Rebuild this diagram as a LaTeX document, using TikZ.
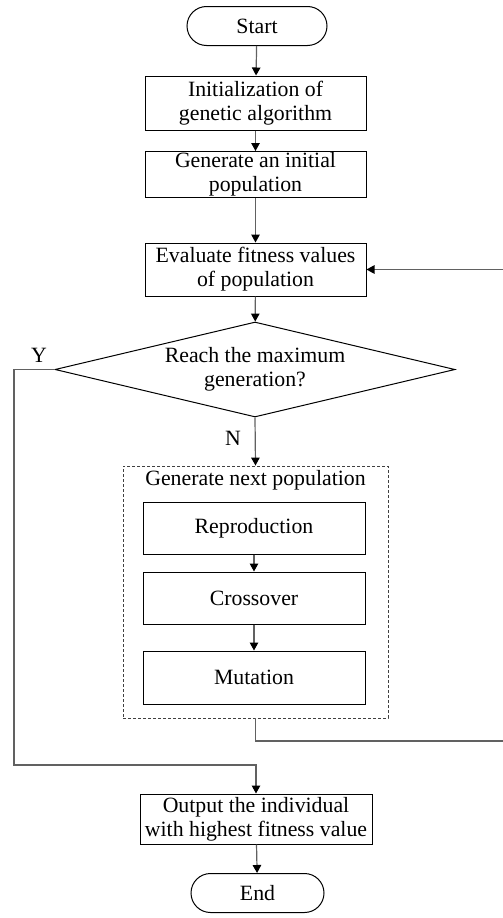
\documentclass[tikz,border=0pt]{standalone}
\usepackage{fontspec}
\setmainfont{Liberation Serif}
\usetikzlibrary{arrows.meta,shapes.geometric,shapes.misc}
\begin{document}
\begin{tikzpicture}[x=1pt,y=-1pt,
  every node/.style={font=\fontsize{21.8}{24}\selectfont},
  proc/.style={draw=black,line width=1pt,rectangle,minimum width=221pt,inner sep=0pt,align=center},
  term/.style={draw=black,line width=1pt,rounded rectangle,minimum height=39pt,inner sep=0pt},
  dec/.style={draw=black,line width=1pt,diamond,aspect=4.21,minimum width=400pt,minimum height=95pt,inner sep=0pt,align=center},
  grp/.style={draw=black!75,line width=0.9pt,dash pattern=on 3pt off 2pt,rectangle,inner sep=0pt},
  conn/.style={draw=black!62,line width=1.2pt},
  arr/.style={conn,-{Triangle[length=8pt,width=8.5pt,color=black]}},
  lbl/.style={inner sep=0pt}
]
\useasboundingbox (0,0) rectangle (503,918);
\fill[white] (0,0) rectangle (503,918);

\node[term,minimum width=140pt] (start) at (257,26) {Start};
\node[proc,minimum height=54pt] (init) at (255.5,103) {Initialization of\\genetic algorithm};
\node[proc,minimum height=46pt] (geninit) at (255.5,174.5) {Generate an initial\\population};
\node[proc,minimum height=53pt] (eval) at (255.5,269.5) {Evaluate fitness values\\of population};
\node[dec] (dec) at (255,369.5) {Reach the maximum\\generation?};
\node[lbl] (ylbl) at (39,355) {Y};
\node[lbl] (nlbl) at (233,438) {N};

\node[grp,minimum width=265pt,minimum height=252pt] (gnp) at (255.5,592) {};
\node[lbl] (gnptitle) at (255.5,480) {Generate next population};
\node[proc,minimum width=222pt,minimum height=52pt] (rep) at (254,528) {Reproduction};
\node[proc,minimum width=222pt,minimum height=52pt] (cro) at (254,598) {Crossover};
\node[proc,minimum width=222pt,minimum height=53pt] (mut) at (254,677.5) {Mutation};

\node[proc,minimum width=232pt,minimum height=50pt] (out) at (256,819) {Output the individual\\with highest fitness value};
\node[term,minimum width=133pt] (end) at (257.5,893) {End};

\coordinate (fbR) at (506,741);
\coordinate (yc) at (14,765);

\draw[arr] (start) -- (init);
\draw[arr] (init) -- (geninit);
\draw[arr] (geninit) -- (eval);
\draw[arr] (eval) -- (dec);
\draw[arr] (dec.south) -- (gnp.north);
\draw[arr] (rep) -- (cro);
\draw[arr] (cro) -- (mut);
\draw[arr] (gnp.south) |- (fbR) |- (eval.east);
\draw[arr] (dec.west) -| (yc) -| (out.north);
\draw[arr] (out) -- (end);
\end{tikzpicture}
\end{document}
